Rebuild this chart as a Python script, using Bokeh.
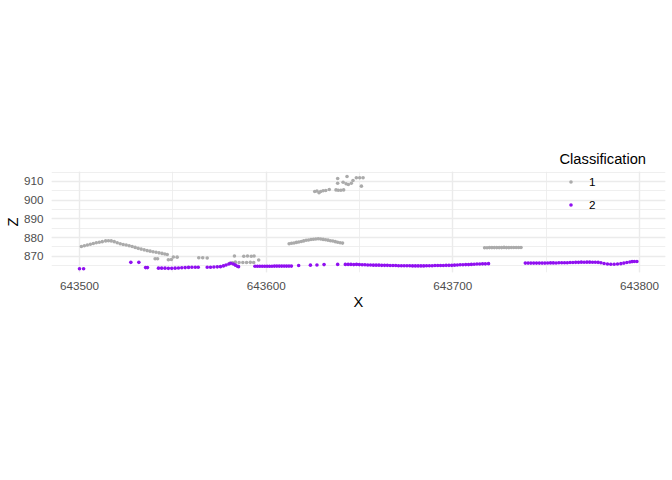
from bokeh.plotting import figure
from bokeh.models import (ColumnDataSource, Legend, LegendItem, SingleIntervalTicker,
                          Range1d, BasicTickFormatter, Title)
from bokeh.embed import file_html
from bokeh.resources import INLINE

# ---------------- data ----------------
classes = ["1", "2"]
class_colors = ["#ABABAB", "#9010F0"]

class1_x = [
    643501.0, 643502.6, 643504.2, 643505.8, 643507.4, 643509.0, 643510.6, 643512.2,
    643514.0, 643515.5, 643517.0, 643518.6, 643520.2, 643521.8, 643523.4, 643525.0, 643526.6, 643528.2,
    643529.8, 643531.4, 643533.0, 643534.6, 643536.2, 643537.8, 643539.4, 643541.0, 643542.6,
    643544.2, 643545.7, 643547.0,
    643540.5, 643541.8, 643547.6, 643549.2, 643550.3, 643552.3, 643563.9, 643566.0, 643568.4,
    643580.5, 643582.0, 643583.5, 643585.5, 643587.5, 643589.5, 643591.5, 643593.3,
    643583.0, 643588.0, 643590.0, 643592.0, 643593.5, 643596.0,
    643612.3, 643613.6, 643614.9, 643616.2, 643617.5, 643618.8, 643620.1, 643621.4, 643622.7, 643624.0,
    643625.3, 643626.6, 643627.9, 643629.2, 643630.5, 643631.8, 643633.1, 643634.4, 643635.7, 643637.0,
    643638.3, 643639.6, 643640.9,
    643626.0, 643627.2, 643628.3, 643629.2, 643630.5, 643631.9, 643633.8, 643637.4, 643638.6, 643640.0,
    643641.5, 643638.3, 643638.3, 643641.2, 643643.3, 643642.8, 643644.0, 643645.6, 643646.5, 643648.3,
    643650.1, 643651.9, 643651.0,
    643717.0, 643718.3, 643719.6, 643720.9, 643722.2, 643723.5, 643724.8, 643726.1, 643727.4, 643728.7,
    643730.0, 643731.3, 643732.6, 643733.9, 643735.2, 643736.5,
]
class1_z = [
    875.2, 875.6, 876.0, 876.4, 876.8, 877.2, 877.5, 877.8,
    878.2, 878.3, 878.2, 877.8, 877.2, 876.7, 876.3, 876.0, 875.6, 875.2,
    874.7, 874.2, 873.8, 873.4, 873.0, 872.7, 872.4, 872.1, 871.8,
    871.5, 871.2, 870.9,
    868.6, 868.6, 868.1, 868.2, 869.6, 869.5, 869.2, 869.2, 869.0,
    866.2, 866.4, 866.8, 866.6, 866.6, 866.6, 866.7, 866.6,
    870.1, 870.0, 870.1, 870.0, 870.1, 868.0,
    876.7, 876.9, 877.1, 877.4, 877.6, 877.9, 878.2, 878.5, 878.7, 878.9,
    879.1, 879.2, 879.3, 879.2, 879.0, 878.8, 878.6, 878.3, 878.1, 877.8,
    877.5, 877.2, 877.0,
    904.6, 904.9, 904.0, 904.6, 905.0, 905.2, 905.7, 905.5, 905.3, 905.3,
    905.5, 911.6, 909.1, 909.6, 912.7, 908.8, 908.4, 909.1, 910.5, 912.0,
    912.0, 912.0, 907.5,
    874.5, 874.5, 874.6, 874.6, 874.6, 874.6, 874.6, 874.6, 874.7, 874.6,
    874.6, 874.7, 874.7, 874.7, 874.7, 874.7,
]

class2_x = [
    643500.0, 643502.2, 643527.5, 643531.8, 643535.4, 643536.4,
    643542.3, 643544.0, 643545.8, 643547.6, 643549.4, 643551.2, 643553.0, 643554.8, 643556.6, 643558.4,
    643560.2, 643562.0, 643563.6,
    643568.4, 643570.2, 643572.0, 643573.8, 643575.5,
    643577.1, 643578.5, 643580.0, 643581.0, 643582.4, 643583.5, 643584.6, 643585.2,
    643594.0, 643595.3, 643596.6, 643597.9, 643599.2, 643600.5, 643601.8, 643603.1, 643604.4, 643605.7,
    643607.0, 643608.3, 643609.6, 643610.9, 643612.2, 643613.5,
    643617.4, 643623.7, 643627.2, 643631.0, 643638.3,
    643642.4, 643643.9, 643645.4, 643646.9, 643648.4, 643649.9, 643651.4, 643652.9, 643654.4, 643655.9,
    643657.4, 643658.9, 643660.4, 643661.9, 643663.4, 643664.9, 643666.4, 643667.9, 643669.4, 643670.9,
    643672.4, 643673.9, 643675.4, 643676.9, 643678.4, 643679.9, 643681.4, 643682.9, 643684.4, 643685.9,
    643687.4, 643688.9, 643690.4, 643691.9, 643693.4, 643694.9, 643696.4, 643697.9, 643699.4, 643700.9,
    643702.4, 643703.9, 643705.4, 643706.9, 643708.4, 643709.9, 643711.4, 643712.9, 643714.4, 643715.9,
    643717.4, 643719.1,
    643738.8, 643740.3, 643741.8, 643743.3, 643744.8, 643746.3, 643747.8, 643749.3, 643750.8, 643752.3,
    643753.8, 643755.3, 643756.8, 643758.3, 643759.8, 643761.3, 643762.8, 643764.3, 643765.8, 643767.3,
    643768.8, 643770.3, 643771.8, 643773.3, 643774.8, 643776.3, 643777.8, 643779.3, 643781.0, 643782.8,
    643784.6, 643786.4, 643788.2, 643790.0, 643791.6, 643793.2, 643794.8, 643796.0, 643797.2, 643798.6,
]
class2_z = [
    863.3, 863.3, 866.7, 866.7, 863.9, 863.9,
    863.6, 863.6, 863.6, 863.5, 863.5, 863.6, 863.7, 863.8, 863.9, 864.0,
    864.1, 864.1, 864.1,
    864.1, 864.1, 864.2, 864.3, 864.4,
    864.8, 865.3, 865.8, 866.2, 865.8, 865.2, 864.6, 864.4,
    864.6, 864.6, 864.6, 864.6, 864.6, 864.6, 864.6, 864.6, 864.7, 864.7,
    864.7, 864.7, 864.7, 864.7, 864.7, 864.7,
    865.0, 865.2, 865.3, 865.5, 865.6,
    865.6, 865.6, 865.6, 865.5, 865.6, 865.5, 865.4, 865.4, 865.3, 865.3,
    865.2, 865.2, 865.2, 865.1, 865.1, 865.1, 865.0, 865.0, 865.0, 864.9,
    864.9, 864.9, 864.9, 864.9, 864.8, 864.8, 864.8, 864.8, 864.8, 864.9,
    864.9, 864.9, 865.0, 865.0, 865.0, 865.0, 865.1, 865.1, 865.1, 865.2,
    865.3, 865.4, 865.4, 865.5, 865.5, 865.6, 865.7, 865.8, 865.8, 865.9,
    865.9, 866.0,
    866.3, 866.3, 866.3, 866.3, 866.3, 866.3, 866.3, 866.3, 866.4, 866.4,
    866.4, 866.4, 866.5, 866.5, 866.5, 866.5, 866.6, 866.6, 866.7, 866.7,
    866.8, 866.8, 866.8, 866.8, 866.8, 866.8, 866.7, 866.5, 866.1, 865.8,
    865.7, 865.7, 865.8, 866.0, 866.3, 866.6, 866.9, 867.1, 867.2, 867.2,
]

x_title = "X"
y_title = "Z"
legend_title = "Classification"

FONT = "Liberation Sans"

# ---------------- figure ----------------
p = figure(
    width=672, height=480,
    output_backend="svg", toolbar_location=None,
    x_range=Range1d(643485.0, 643813.9),
    y_range=Range1d(861.27, 915.35),
    min_border_left=51, min_border_right=7, min_border_top=171, min_border_bottom=208,
)
p.outline_line_color = None
p.background_fill_color = "white"
p.border_fill_color = "white"

p.xaxis.ticker = SingleIntervalTicker(interval=100, num_minor_ticks=2)
p.yaxis.ticker = SingleIntervalTicker(interval=10, num_minor_ticks=2)
p.xaxis.formatter = BasicTickFormatter(use_scientific=False)

for ax in (p.xaxis[0], p.yaxis[0]):
    ax.axis_line_color = None
    ax.major_tick_line_color = None
    ax.minor_tick_line_color = None
    ax.major_tick_out = 0
    ax.major_tick_in = 0
    ax.minor_tick_out = 0
    ax.minor_tick_in = 0
    ax.major_label_text_font = FONT
    ax.major_label_text_font_size = "11.7px"
    ax.major_label_text_color = "#4D4D4D"
    ax.axis_label_text_font = FONT
    ax.axis_label_text_font_size = "14.7px"
    ax.axis_label_text_font_style = "normal"
    ax.axis_label_text_color = "black"

p.xaxis.axis_label = x_title
p.yaxis.axis_label = y_title
p.xaxis.major_label_standoff = 9
p.xaxis.axis_label_standoff = 1
p.yaxis.major_label_standoff = 8
p.yaxis.axis_label_standoff = 0

p.xgrid.grid_line_color = "#EBEBEB"
p.ygrid.grid_line_color = "#EBEBEB"
p.xgrid.grid_line_width = 1.4
p.ygrid.grid_line_width = 1.4
p.xgrid.minor_grid_line_color = "#EBEBEB"
p.ygrid.minor_grid_line_color = "#EBEBEB"
p.xgrid.minor_grid_line_width = 0.8
p.ygrid.minor_grid_line_width = 0.8

src1 = ColumnDataSource(dict(x=class1_x, z=class1_z))
src2 = ColumnDataSource(dict(x=class2_x, z=class2_z))
r1 = p.scatter("x", "z", source=src1, size=3.6, color=class_colors[0], line_color=None)
r2 = p.scatter("x", "z", source=src2, size=3.6, color=class_colors[1], line_color=None)

# legend title placed above the panel (as in the reference)
ttl = Title(text=legend_title, align="left", offset=508, standoff=10,
            text_font=FONT, text_font_size="14.7px", text_font_style="normal",
            text_color="black")
p.add_layout(ttl, "above")

legend = Legend(
    items=[LegendItem(label=classes[0], renderers=[r1]),
           LegendItem(label=classes[1], renderers=[r2])],
    location=(515, 58),
    label_text_font=FONT, label_text_font_size="11.7px", label_text_color="black",
    glyph_width=9, glyph_height=9, label_height=20, spacing=3, label_standoff=14,
    padding=0, margin=0,
    border_line_color=None, background_fill_alpha=0,
)
p.add_layout(legend, "center")

open("out.html", "w").write(file_html(p, INLINE))
